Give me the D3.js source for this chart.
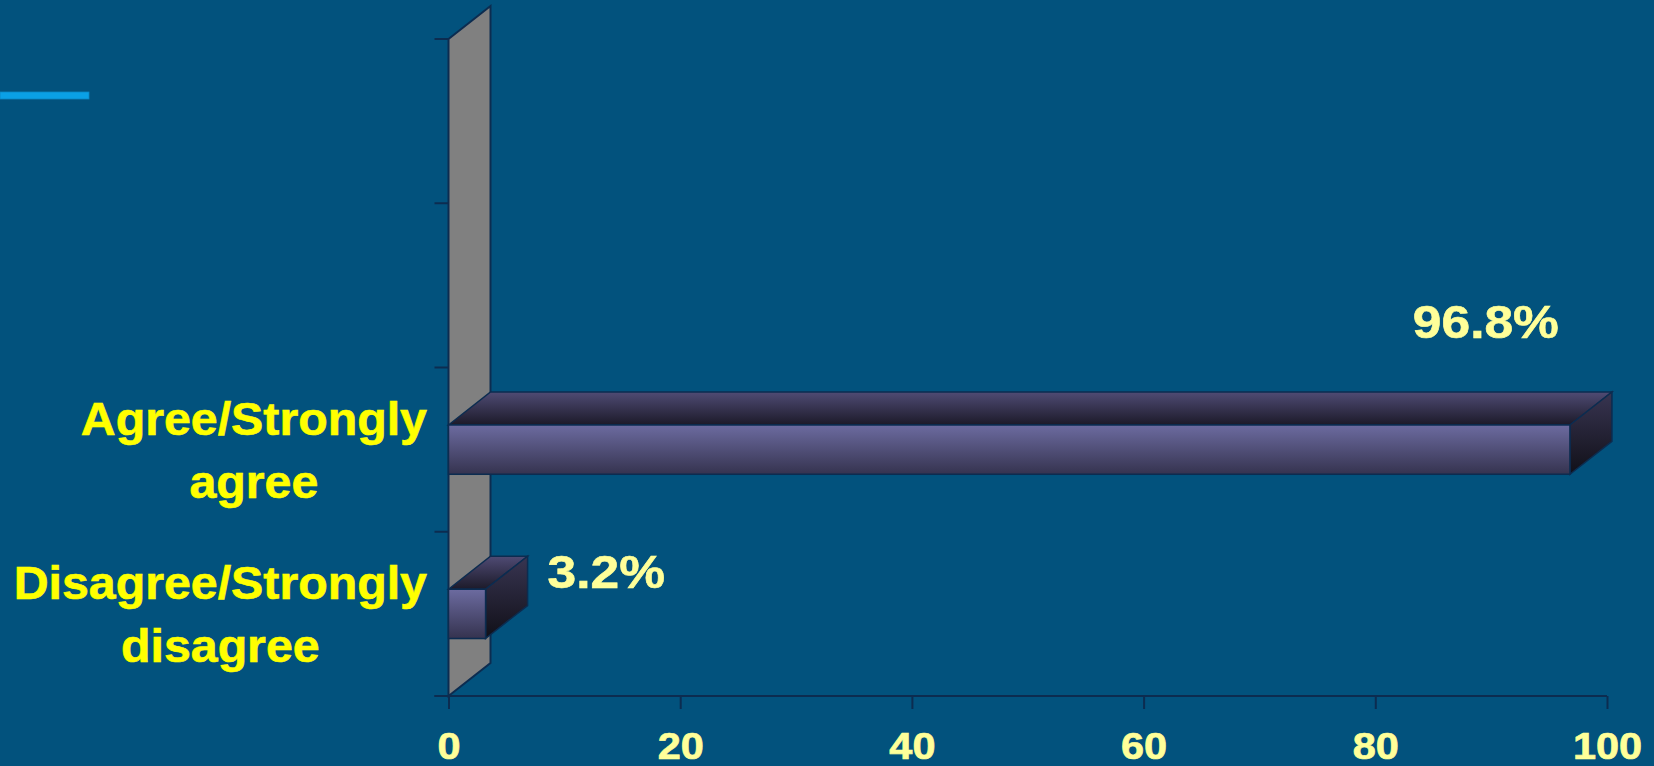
<!DOCTYPE html>
<html>
<head>
<meta charset="utf-8">
<script src="https://cdn.jsdelivr.net/npm/d3@7"></script>
<style>
  html, body { margin: 0; padding: 0; background: #02527D; }
  svg { display: block; }
</style>
</head>
<body>
<svg id="chart" width="1654" height="766"></svg>
<script>
// ---- data ----
const categories = ["Agree/Strongly agree", "Disagree/Strongly disagree"];
const values = [96.8, 3.2];
const blankSlots = ["slot1", "slot2"];          // two empty category rows at top
const xTicks = [0, 20, 40, 60, 80, 100];
const valueLabels = ["96.8%", "3.2%"];

// ---- layout ----
const W = 1654, H = 766;
const X0 = 448.5, X1 = 1607, Y0 = 39, Y1 = 696;
const DX = 42, DY = -33;   // 3D depth offset
const stroke = "#0C2C50";
const FONT = "Liberation Sans, Arial, sans-serif";

const svg = d3.select("#chart");
svg.append("rect").attr("width", W).attr("height", H).attr("fill", "#02527D");

// decorative blue line top-left
svg.append("rect").attr("x", 0).attr("y", 92).attr("width", 89).attr("height", 7)
  .attr("fill", "#0AA0E6").attr("stroke", "#0A86C4").attr("stroke-width", 0.8);

const x = d3.scaleLinear().domain([0, 100]).range([X0, X1]);
const slots = blankSlots.concat(categories);
const y = d3.scaleBand().domain(slots).range([Y0, Y1]).paddingInner(0.7).paddingOuter(0.35);
const step = y.step();

// gradients
const defs = svg.append("defs");
function grad(id, c1, c2) {
  const g = defs.append("linearGradient").attr("id", id).attr("x1", 0).attr("y1", 0).attr("x2", 0).attr("y2", 1);
  g.append("stop").attr("offset", "0%").attr("stop-color", c1);
  g.append("stop").attr("offset", "100%").attr("stop-color", c2);
}
grad("gFront", "#6C6BA0", "#35334F");
grad("gTop", "#4F4B74", "#1C1A29");
grad("gSide", "#383552", "#111018");

// back wall (3D)
svg.append("polygon")
  .attr("points", [[X0, Y0], [X0 + DX, Y0 + DY], [X0 + DX, Y1 + DY], [X0, Y1]].map(p => p.join(",")).join(" "))
  .attr("fill", "#808080").attr("stroke", stroke).attr("stroke-width", 2);

// y ticks at band boundaries
const yTickPos = d3.range(slots.length + 1).map(i => Y0 + i * step);
svg.append("g").selectAll("line").data(yTickPos).join("line")
  .attr("x1", X0 - 14).attr("x2", X0).attr("y1", d => d).attr("y2", d => d)
  .attr("stroke", stroke).attr("stroke-width", 2);

// x axis
const xAxis = d3.axisBottom(x).tickValues(xTicks).tickSize(13).tickPadding(24);
const gx = svg.append("g").attr("transform", `translate(0,${Y1})`).call(xAxis);
gx.select(".domain").remove();
gx.append("line").attr("x1", X0 - 14).attr("x2", X1).attr("y1", 0).attr("y2", 0)
  .attr("stroke", stroke).attr("stroke-width", 2);
gx.selectAll(".tick line").attr("stroke", stroke).attr("stroke-width", 2);
gx.selectAll(".tick text")
  .attr("fill", "#FFFF99").attr("stroke", "#FFFF99").attr("stroke-width", 0.7)
  .attr("font-family", FONT)
  .attr("font-weight", "bold").attr("font-size", 37)
  .attr("dy", null).attr("y", 0).attr("dominant-baseline", "alphabetic")
  .attr("transform", "translate(0,63) scale(1.12,1)");

// bars
const data = categories.map((c, i) => ({ c, v: values[i], label: valueLabels[i] }));
const bars = svg.append("g").selectAll("g").data(data).join("g");
const pts = a => a.map(p => p.join(",")).join(" ");
bars.each(function (d) {
  const g = d3.select(this);
  const xa = x(0), xb = x(d.v), t = y(d.c), b = t + y.bandwidth();
  g.append("polygon").attr("points", pts([[xa, t], [xa + DX, t + DY], [xb + DX, t + DY], [xb, t]]))
    .attr("fill", "url(#gTop)").attr("stroke", stroke).attr("stroke-width", 1.5);
  g.append("polygon").attr("points", pts([[xb, t], [xb + DX, t + DY], [xb + DX, b + DY], [xb, b]]))
    .attr("fill", "url(#gSide)").attr("stroke", stroke).attr("stroke-width", 1.5);
  g.append("rect").attr("x", xa).attr("y", t).attr("width", xb - xa).attr("height", b - t)
    .attr("fill", "url(#gFront)").attr("stroke", stroke).attr("stroke-width", 1.5);

  // value label
  const sx = 1.12;
  const txt = g.append("text").text(d.label)
    .attr("fill", "#FFFF99").attr("stroke", "#FFFF99").attr("stroke-width", 0.6)
    .attr("font-family", FONT)
    .attr("font-weight", "bold").attr("font-size", 46);
  const w = txt.node().getComputedTextLength() * sx;
  if (xb + DX + 20 + w < W - 40) {
    txt.attr("text-anchor", "start").attr("transform", `translate(${xb + DX + 20},${t - 1}) scale(${sx},1)`);
  } else {
    txt.attr("text-anchor", "end").attr("transform", `translate(${xb - 11},${t + DY - 54}) scale(${sx},1)`);
  }
});

// category labels (two lines, centred block right-aligned to the axis)
const labelRight = 427;
const lsx = 1.05;
categories.forEach(c => {
  const words = c.split(" ");
  const cy = y(c) + y.bandwidth() / 2;
  const g = svg.append("g");
  const ts = words.map((wd, i) => g.append("text").text(wd)
    .attr("fill", "#FFFF00").attr("stroke", "#FFFF00").attr("stroke-width", 0.6)
    .attr("font-family", FONT)
    .attr("font-weight", "bold").attr("font-size", 46)
    .attr("text-anchor", "middle"));
  const maxW = d3.max(ts, t => t.node().getComputedTextLength()) * lsx;
  ts.forEach((t, i) => t.attr("transform",
    `translate(${labelRight - maxW / 2},${i === 0 ? cy - 15 : cy + 48}) scale(${lsx},1)`));
});
</script>
</body>
</html>
